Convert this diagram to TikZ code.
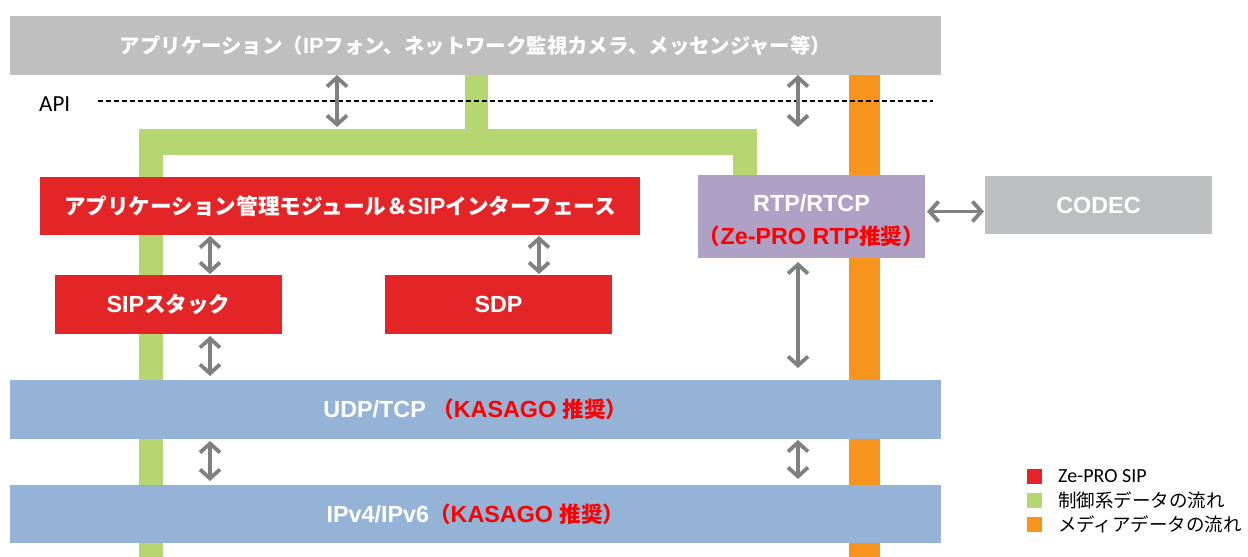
\documentclass[tikz,border=0pt]{standalone}
\usepackage{fontspec}
\setmainfont{Noto Sans CJK JP}
\newfontfamily\latfont{Liberation Sans}[Scale=1.08]
\newfontfamily\calfont{Carlito}
\usetikzlibrary{arrows.meta}
\definecolor{topgray}{RGB}{191,191,191}
\definecolor{codecgray}{RGB}{190,191,193}
\definecolor{zered}{RGB}{228,37,40}
\definecolor{flowgreen}{RGB}{181,214,112}
\definecolor{floworange}{RGB}{247,148,30}
\definecolor{rtppurple}{RGB}{175,160,198}
\definecolor{netblue}{RGB}{149,179,215}
\definecolor{arrgray}{RGB}{128,128,128}
\definecolor{pured}{RGB}{255,0,0}
\newcommand\latx[1]{{\latfont\bfseries #1}}
\begin{document}
\begin{tikzpicture}[x=1pt,y=-1pt,
  box/.style={inner sep=0pt, outer sep=0pt, anchor=north west, text=white,
    font=\bfseries\fontsize{21.6}{33}\selectfont, align=center},
  boxtxt/.style={inner sep=0pt, outer sep=0pt, text=white,
    font=\bfseries\fontsize{21.6}{33}\selectfont, align=center},
  dbl/.style={draw=arrgray, line width=3.8pt,
    {Straight Barb[length=9pt,width=20pt]}-{Straight Barb[length=9pt,width=20pt]}},
  legsq/.style={inner sep=0pt, outer sep=0pt, minimum size=15pt},
  legtxt/.style={anchor=west, inner sep=0pt, font=\fontsize{18.5}{20}\selectfont}
]
\useasboundingbox (0,0) rectangle (1248,557);
% flow bands
\fill[flowgreen] (465,75) rectangle (488,130);
\fill[flowgreen] (139,129) rectangle (757,155);
\fill[flowgreen] (139,129) rectangle (163,557);
\fill[flowgreen] (733,129) rectangle (757,176);
\fill[floworange] (849,75) rectangle (880,557);
% boxes
\node[box, fill=topgray, minimum width=931pt, minimum height=59pt, font=\bfseries\fontsize{20.4}{24}\selectfont] (app) at (10,16)
  {アプリケーション（\latx{IP}フォン、ネットワーク監視カメラ、メッセンジャー等）};
\node[box, fill=zered, minimum width=600pt, minimum height=58pt] (mgmt) at (40,177)
  {アプリケーション管理モジュール＆\latx{SIP}インターフェース};
\node[box, fill=rtppurple, minimum width=227pt, minimum height=83pt] (rtp) at (698,175) {};
\node[boxtxt, below=0pt] (rtptxt) at (rtp.north) {\rule{0pt}{36pt}\latx{RTP/RTCP}\\\textcolor{pured}{（\latx{Ze-PRO RTP}推奨）}};
\node[box, fill=codecgray, minimum width=227pt, minimum height=58pt] (codec) at (985,176)
  {\latx{CODEC}};
\node[box, fill=zered, minimum width=227pt, minimum height=59pt] (sip) at (55,275)
  {\latx{SIP}スタック};
\node[box, fill=zered, minimum width=227pt, minimum height=59pt] (sdp) at (385,275)
  {\latx{SDP}};
\node[box, fill=netblue, minimum width=931pt, minimum height=59pt] (udp) at (10,380)
  {\latx{UDP/TCP }\textcolor{pured}{（\latx{KASAGO }推奨）}};
\node[box, fill=netblue, minimum width=931pt, minimum height=58pt] (ip) at (10,485)
  {\latx{IPv4/IPv6}\textcolor{pured}{（\latx{KASAGO }推奨）}};
% API line
\node[anchor=west, inner sep=0pt, font=\calfont\fontsize{23}{26}\selectfont] (api) at (39,104) {API};
\coordinate (dashs) at (98,101);
\coordinate (dashe) at (933,101);
\draw[line width=1.6pt, dash pattern=on 5pt off 3pt] (dashs) -- (dashe);
% arrow columns
\coordinate (xa) at (337,0);
\coordinate (xb) at (798,0);
\coordinate (xc) at (210,0);
\coordinate (xd) at (539,0);
\coordinate (ga) at (337,127);
\coordinate (gb) at (798,127);
\draw[dbl] (app.south -| xa) -- (ga);
\draw[dbl] (app.south -| xb) -- (gb);
\draw[dbl, shorten <=1pt, shorten >=1pt] (mgmt.south -| xc) -- (sip.north -| xc);
\draw[dbl, shorten <=1pt, shorten >=1pt] (mgmt.south -| xd) -- (sdp.north -| xd);
\draw[dbl, shorten <=2pt, shorten >=4pt] (sip.south -| xc) -- (udp.north -| xc);
\draw[dbl, shorten <=4pt, shorten >=12pt] (rtp.south -| xb) -- (udp.north -| xb);
\draw[dbl, shorten <=2pt, shorten >=4pt] (udp.south -| xc) -- (ip.north -| xc);
\draw[dbl, shorten <=1pt, shorten >=6pt] (udp.south -| xb) -- (ip.north -| xb);
\draw[dbl, shorten <=2pt, shorten >=1pt] (rtp.east) ++(0,-5) coordinate (rtpr) (rtpr) -- (rtpr -| codec.west);
% legend
\node[legsq, fill=zered] (l1) at (1034,476) {};
\node[legsq, fill=flowgreen] (l2) at (1034,500) {};
\node[legsq, fill=floworange] (l3) at (1034,524) {};
\node[legtxt, font=\calfont\fontsize{20}{22}\selectfont] (t1) at (1058,476) {Ze-PRO SIP};
\node[legtxt] (t2) at (1058,500) {制御系データの流れ};
\node[legtxt] (t3) at (1058,524) {メディアデータの流れ};
\end{tikzpicture}
\end{document}
